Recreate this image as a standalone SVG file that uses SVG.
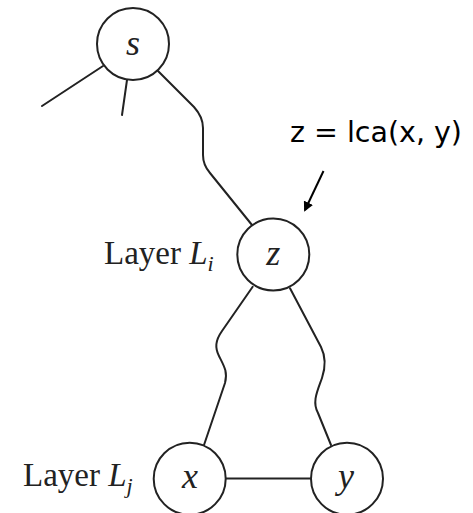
<svg xmlns="http://www.w3.org/2000/svg" width="473" height="513" viewBox="0 0 473 513">
<style>
.n{fill:#fff;stroke:#222;stroke-width:2}
.e{fill:none;stroke:#222;stroke-width:2;stroke-linecap:round;stroke-linejoin:round}
.v{font-family:"Liberation Serif","DejaVu Serif",serif;font-style:italic;font-size:36px;fill:#222;text-anchor:middle}
.lab{font-family:"Liberation Serif","DejaVu Serif",serif;font-size:33px;fill:#222}
.it{font-style:italic}
.sub{font-style:italic;font-size:22px}
.ann{font-family:"DejaVu Sans","Liberation Sans",sans-serif;font-size:28px;fill:#000}
</style>
<defs>
<marker id="ah" markerWidth="10" markerHeight="10" refX="8" refY="5" orient="auto" markerUnits="userSpaceOnUse"><path d="M0,0 L10,5 L0,10 Z" fill="#000"/></marker>
</defs>
<g id="connectors">
<path class="e" d="M103,66 L42,106"/>
<path class="e" d="M127,80 L122,115"/>
<path class="e" d="M158,71 L194,107 Q203,117 203,128 L203,155 Q203,165 210,173 L252,225"/>
<path class="e" d="M252.7,286.7 L222,331 C215,341 215,348 219,356 C224,366 228,372 225,383 L204,445"/>
<path class="e" d="M290,288.3 L321,347 C326,357 326,366 322,378 C317,392 312,402 318,413 L331,445"/>
<path class="e" d="M225.5,478.5 L311,478.5"/>
<path d="M323.5,171 L305,210" stroke="#000" stroke-width="2" fill="none" marker-end="url(#ah)"/>
</g>
<g id="node-s"><circle class="n" cx="133" cy="44" r="36"/><text class="v" x="133" y="55">s</text></g>
<g id="node-z"><circle class="n" cx="273.3" cy="254.5" r="36"/><text class="v" x="273.3" y="265">z</text></g>
<g id="node-x"><circle class="n" cx="189.7" cy="478.7" r="36"/><text class="v" x="190" y="488">x</text></g>
<g id="node-y"><circle class="n" cx="347" cy="478.7" r="36"/><text class="v" x="346" y="488">y</text></g>
<g id="labels">
<text class="lab" x="104" y="264">Layer <tspan class="it">L</tspan><tspan class="sub" dy="7">i</tspan></text>
<text class="lab" x="23" y="486">Layer <tspan class="it">L</tspan><tspan class="sub" dy="7">j</tspan></text>
<text class="ann" x="290" y="141.5" textLength="172" lengthAdjust="spacingAndGlyphs">z = lca(x, y)</text>
</g>
</svg>
